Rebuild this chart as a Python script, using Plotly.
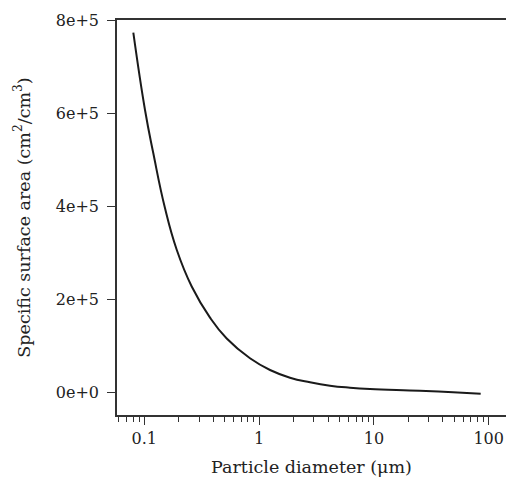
import plotly.graph_objects as go

# Data
diameter_um = [0.0802, 0.1014, 0.1198, 0.1515, 0.1915, 0.2588, 0.3735, 0.5222,
               0.833, 1.245, 1.858, 2.775, 4.146, 6.19, 9.25, 25.1, 48.9, 85.2]
surface_area = [772700, 606400, 513300, 395000, 306000, 227000, 160000, 115000,
                72500, 47300, 30750, 20900, 13550, 9250, 6450, 2800, -500, -3700]

x_tick_vals = [0.1, 1, 10, 100]
x_tick_text = ["0.1", "1", "10", "100"]
y_tick_vals = [0, 200000, 400000, 600000, 800000]
y_tick_text = ["0e+0", "2e+5", "4e+5", "6e+5", "8e+5"]

minor_vals = [k * 10.0 ** e for e in range(-2, 3) for k in range(2, 10)]

FONT = "DejaVu Serif"
TXT = "#222222"
AX = "#333333"

fig = go.Figure()
fig.add_trace(go.Scatter(
    x=diameter_um, y=surface_area, mode="lines",
    line=dict(color="#1a1a1a", width=2, shape="spline", smoothing=1.3),
    showlegend=False, hoverinfo="skip"))

fig.update_layout(
    width=506, height=479,
    margin=dict(l=117, r=0, t=20, b=64),
    paper_bgcolor="white", plot_bgcolor="white",
    font=dict(family=FONT, size=16, color=TXT),
)

fig.update_xaxes(
    type="log", range=[-1.238, 2.151],
    tickvals=x_tick_vals, ticktext=x_tick_text,
    ticks="outside", ticklen=8, tickwidth=1.3, tickcolor=AX,
    minor=dict(tickvals=minor_vals, ticks="outside", ticklen=5,
               tickwidth=1, tickcolor=AX, showgrid=False),
    showline=True, linecolor=AX, linewidth=1.5, mirror=True,
    showgrid=False, zeroline=False,
    tickfont=dict(family=FONT, size=16, color=TXT),
    title=dict(text="Particle diameter (μm)", standoff=14,
               font=dict(family=FONT, size=17.5, color=TXT)),
)

fig.update_yaxes(
    range=[-49460, 800000],
    tickvals=y_tick_vals, ticktext=y_tick_text,
    ticks="outside", ticklen=8, tickwidth=1.3, tickcolor=AX,
    ticklabelstandoff=5,
    showline=True, linecolor=AX, linewidth=1.5,
    showgrid=False, zeroline=False,
    tickfont=dict(family=FONT, size=16, color=TXT),
    title=dict(text="Specific surface area (cm<sup>2</sup>/cm<sup>3</sup>)", standoff=21,
               font=dict(family=FONT, size=17.5, color=TXT)),
)

fig.write_html("out.html", config={"displayModeBar": False},
               post_script="document.body.style.margin='0';")
